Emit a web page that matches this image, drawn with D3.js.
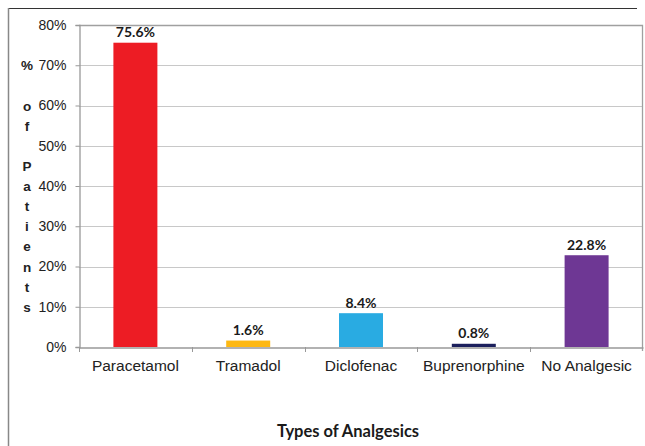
<!DOCTYPE html>
<html>
<head>
<meta charset="utf-8">
<script src="https://cdn.jsdelivr.net/npm/d3@7"></script>
<style>
  html, body { margin: 0; padding: 0; background: #fff; }
  svg { display: block; }
</style>
</head>
<body>
<svg id="chart" width="645" height="446"></svg>
<script>
// Analgesic use among patients
const categories = ["Paracetamol", "Tramadol", "Diclofenac", "Buprenorphine", "No Analgesic"];
const percentages = [75.6, 1.6, 8.4, 0.8, 22.8];
const barColors = ["#ED1C24", "#FDB813", "#29ABE2", "#1B1F5C", "#6E3794"];
const yTicks = [0, 10, 20, 30, 40, 50, 60, 70, 80];
const yTitleLetters = ["%", "", "o", "f", "", "P", "a", "t", "i", "e", "n", "t", "s"];
const xTitle = "Types of Analgesics";

const svg = d3.select("#chart");
const plot = { left: 79, right: 643, top: 25, bottom: 347 };

const x = d3.scaleBand()
  .domain(categories)
  .range([plot.left, plot.right])
  .paddingInner(0.61)
  .paddingOuter(0.305);

const xBand = d3.scaleBand()
  .domain(categories)
  .range([plot.left, plot.right]);

const y = d3.scaleLinear().domain([0, 80]).range([plot.bottom, plot.top]);

// outer frame
svg.append("line").attr("x1", 8).attr("x2", 637).attr("y1", 8.5).attr("y2", 8.5)
  .attr("stroke", "#333").attr("stroke-width", 1.2);
svg.append("line").attr("x1", 8.5).attr("x2", 8.5).attr("y1", 8).attr("y2", 446)
  .attr("stroke", "#888").attr("stroke-width", 1.5);

// gridlines
svg.append("g").selectAll("line")
  .data(yTicks.filter(d => d > 0 && d < 80))
  .join("line")
  .attr("x1", plot.left).attr("x2", plot.right)
  .attr("y1", d => Math.round(y(d)) + 0.5).attr("y2", d => Math.round(y(d)) + 0.5)
  .attr("stroke", "#c8c8c8").attr("stroke-width", 1);

// plot border (top and right)
svg.append("path")
  .attr("d", `M${plot.left},${plot.top + 0.5}H${plot.right - 0.5}V${plot.bottom + 4}`)
  .attr("fill", "none").attr("stroke", "#a0a0a0").attr("stroke-width", 1.3);

// bars
svg.append("g").selectAll("rect")
  .data(percentages)
  .join("rect")
  .attr("x", (d, i) => x(categories[i]))
  .attr("width", x.bandwidth())
  .attr("y", d => y(d))
  .attr("height", d => y(0) - y(d))
  .attr("fill", (d, i) => barColors[i]);

// value labels
svg.append("g").selectAll("text")
  .data(percentages)
  .join("text")
  .attr("x", (d, i) => x(categories[i]) + x.bandwidth() / 2)
  .attr("y", d => y(d) - 5.5)
  .attr("text-anchor", "middle")
  .attr("font-family", "Lato, 'Open Sans', sans-serif")
  .attr("font-weight", "bold")
  .attr("font-size", 14)
  .attr("fill", "#1a1a1a")
  .text(d => d.toFixed(1) + "%");

// y axis
const yAxis = svg.append("g")
  .attr("transform", `translate(${plot.left + 0.5},0)`)
  .call(d3.axisLeft(y).tickValues(yTicks).tickFormat(d => d + "%").tickSizeOuter(0).tickSize(4).tickPadding(9));
yAxis.select(".domain").attr("stroke", "#999").attr("stroke-width", 1.3);
yAxis.selectAll(".tick line").attr("stroke", "#999");
yAxis.selectAll(".tick text")
  .attr("font-family", "'Liberation Sans', Arial, sans-serif")
  .attr("font-size", 14).attr("fill", "#222");

// x axis
const xAxis = svg.append("g")
  .attr("transform", `translate(0,${Math.round(y(0)) + 0.5})`)
  .call(d3.axisBottom(xBand).tickSize(0).tickPadding(12).tickSizeOuter(0));
xAxis.select(".domain").attr("stroke", "#999").attr("stroke-width", 1.3);
xAxis.selectAll(".tick text")
  .attr("font-family", "'Liberation Sans', Arial, sans-serif")
  .attr("font-size", 15.5).attr("fill", "#222");

// category separator ticks on the x axis
svg.append("g").selectAll("line")
  .data(categories.slice(1))
  .join("line")
  .attr("x1", d => Math.round(xBand(d)) + 0.5).attr("x2", d => Math.round(xBand(d)) + 0.5)
  .attr("y1", y(0)).attr("y2", y(0) + 5)
  .attr("stroke", "#999");
svg.append("line")
  .attr("x1", plot.left + 0.5).attr("x2", plot.left + 0.5)
  .attr("y1", y(0)).attr("y2", y(0) + 5).attr("stroke", "#999");

// vertical letter-stacked y title
const lineStep = (y(0) - y(10)) / 2;
svg.append("g").selectAll("text")
  .data(yTitleLetters)
  .join("text")
  .attr("x", 27)
  .attr("y", (d, i) => y(70) + 5 + i * lineStep)
  .attr("text-anchor", "middle")
  .attr("font-family", "'Liberation Sans', Arial, sans-serif")
  .attr("font-weight", "bold")
  .attr("font-size", 13.5)
  .attr("fill", "#222")
  .text(d => d);

// x title
svg.append("text")
  .attr("x", 348)
  .attr("y", 437)
  .attr("text-anchor", "middle")
  .attr("font-family", "Lato, 'Open Sans', sans-serif")
  .attr("font-weight", "bold")
  .attr("font-size", 16.5)
  .attr("fill", "#1a1a1a")
  .text(xTitle);
</script>
</body>
</html>
